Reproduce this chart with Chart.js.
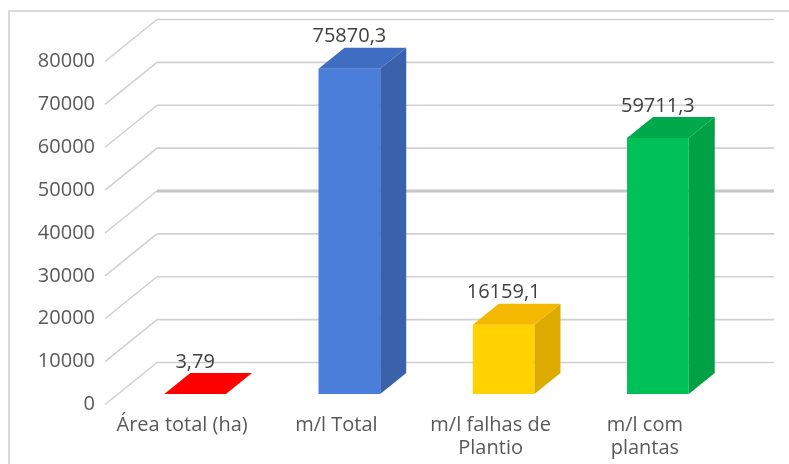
<!DOCTYPE html>
<html>
<head>
<meta charset="utf-8">
<script src="https://cdn.jsdelivr.net/npm/chart.js@4.4.0/dist/chart.umd.min.js"></script>
<style>
  html, body { margin:0; padding:0; background:#fff; }
  canvas { display:block; }
</style>
</head>
<body>
<canvas id="chart" width="789" height="464"></canvas>
<script>
// ===== data =====
const categories = [
  ['Área total (ha)'],
  ['m/l Total'],
  ['m/l falhas de', 'Plantio'],
  ['m/l com', 'plantas']
];
const values = [3.79, 75870.3, 16159.1, 59711.3];
const yTicks = [0, 10000, 20000, 30000, 40000, 50000, 60000, 70000, 80000];

// face colours: front, top, side
const frontColors = ['#ff0000', '#4a7ed9', '#ffd200', '#00c157'];
const topColors   = ['#ff0000', '#3f6dc2', '#f4b800', '#00a94b'];
const sideColors  = ['#e00000', '#3a62ab', '#ddaa00', '#00a044'];

// ===== 3d geometry =====
const DX = 52, DY = 42;          // full floor depth
const BAR_FRONT = 0.25;          // bars sit between 0.25 and 0.75 of depth
const BAR_DEPTH = 0.5;

const FONT = '"Open Sans", sans-serif';

function fmt(v){ return String(v).replace('.', ','); }

const threeD = {
  id: 'threeD',
  beforeDatasetsDraw(chart){
    const ctx = chart.ctx, y = chart.scales.y, area = chart.chartArea;
    const bx = DX * (1 - BAR_FRONT), by = DY * (1 - BAR_FRONT);   // to back wall
    const fx = -DX * BAR_FRONT, fy = DY * BAR_FRONT;               // to floor front
    ctx.save();
    // outer frame
    ctx.strokeStyle = '#d9d9d9'; ctx.lineWidth = 2;
    ctx.strokeRect(9, 11, 1000, 1000);

    yTicks.forEach(v => {
      const py = y.getPixelForValue(v);
      // side wall diagonal
      ctx.strokeStyle = '#d0d0d0'; ctx.lineWidth = 1.6;
      ctx.beginPath();
      ctx.moveTo(area.left + fx, py + fy);
      ctx.lineTo(area.left + bx, py - by);
      ctx.stroke();
      // back wall line
      ctx.strokeStyle = v === 40000 ? '#c6c6c6' : '#d0d0d0';
      ctx.lineWidth = v === 40000 ? 3 : 1.6;
      ctx.beginPath();
      ctx.moveTo(area.left + bx, py - by);
      ctx.lineTo(area.right + bx, py - by);
      ctx.stroke();

      ctx.fillStyle = '#595959';
      ctx.font = '20px ' + FONT;
      ctx.textAlign = 'right'; ctx.textBaseline = 'middle';
      ctx.fillText(String(v), area.left + fx - 10, py + fy);
    });

    // category labels on floor front
    const x = chart.scales.x;
    ctx.fillStyle = '#595959';
    ctx.textAlign = 'center'; ctx.textBaseline = 'middle';
    categories.forEach((lines, i) => {
      const px = x.getPixelForValue(i) + fx;
      lines.forEach((t, k) => ctx.fillText(t, px, y.getPixelForValue(0) + fy + 21 + k * 23));
    });
    ctx.restore();
  },
  afterDatasetsDraw(chart){
    const ctx = chart.ctx;
    const meta = chart.getDatasetMeta(0);
    const dx = DX * BAR_DEPTH, dy = DY * BAR_DEPTH;
    ctx.save();
    meta.data.forEach((bar, i) => {
      const l = bar.x - bar.width / 2, r = bar.x + bar.width / 2;
      const t = bar.y, b = bar.base;
      // side
      ctx.fillStyle = sideColors[i];
      ctx.beginPath();
      ctx.moveTo(r, t); ctx.lineTo(r + dx, t - dy);
      ctx.lineTo(r + dx, b - dy); ctx.lineTo(r, b);
      ctx.closePath(); ctx.fill();
      // top
      ctx.fillStyle = topColors[i];
      ctx.beginPath();
      ctx.moveTo(l, t); ctx.lineTo(r, t);
      ctx.lineTo(r + dx, t - dy); ctx.lineTo(l + dx, t - dy);
      ctx.closePath(); ctx.fill();
      // value label
      ctx.fillStyle = '#404040';
      ctx.font = '20px ' + FONT;
      ctx.textAlign = 'center'; ctx.textBaseline = 'middle';
      ctx.fillText(fmt(values[i]), bar.x, t - dy - 11);
    });
    ctx.restore();
  }
};

new Chart(document.getElementById('chart'), {
  type: 'bar',
  data: {
    labels: categories,
    datasets: [{
      data: values,
      backgroundColor: frontColors,
      borderWidth: 0,
      categoryPercentage: 1,
      barPercentage: 0.4
    }]
  },
  options: {
    responsive: false,
    animation: false,
    devicePixelRatio: 1,
    layout: { padding: { left: 118, right: 54, top: 51, bottom: 70 } },
    scales: {
      x: { display: false },
      y: { display: false, min: 0, max: 80000, ticks: { stepSize: 10000 } }
    },
    plugins: { legend: { display: false }, tooltip: { enabled: false } }
  },
  plugins: [threeD]
});
</script>
</body>
</html>
